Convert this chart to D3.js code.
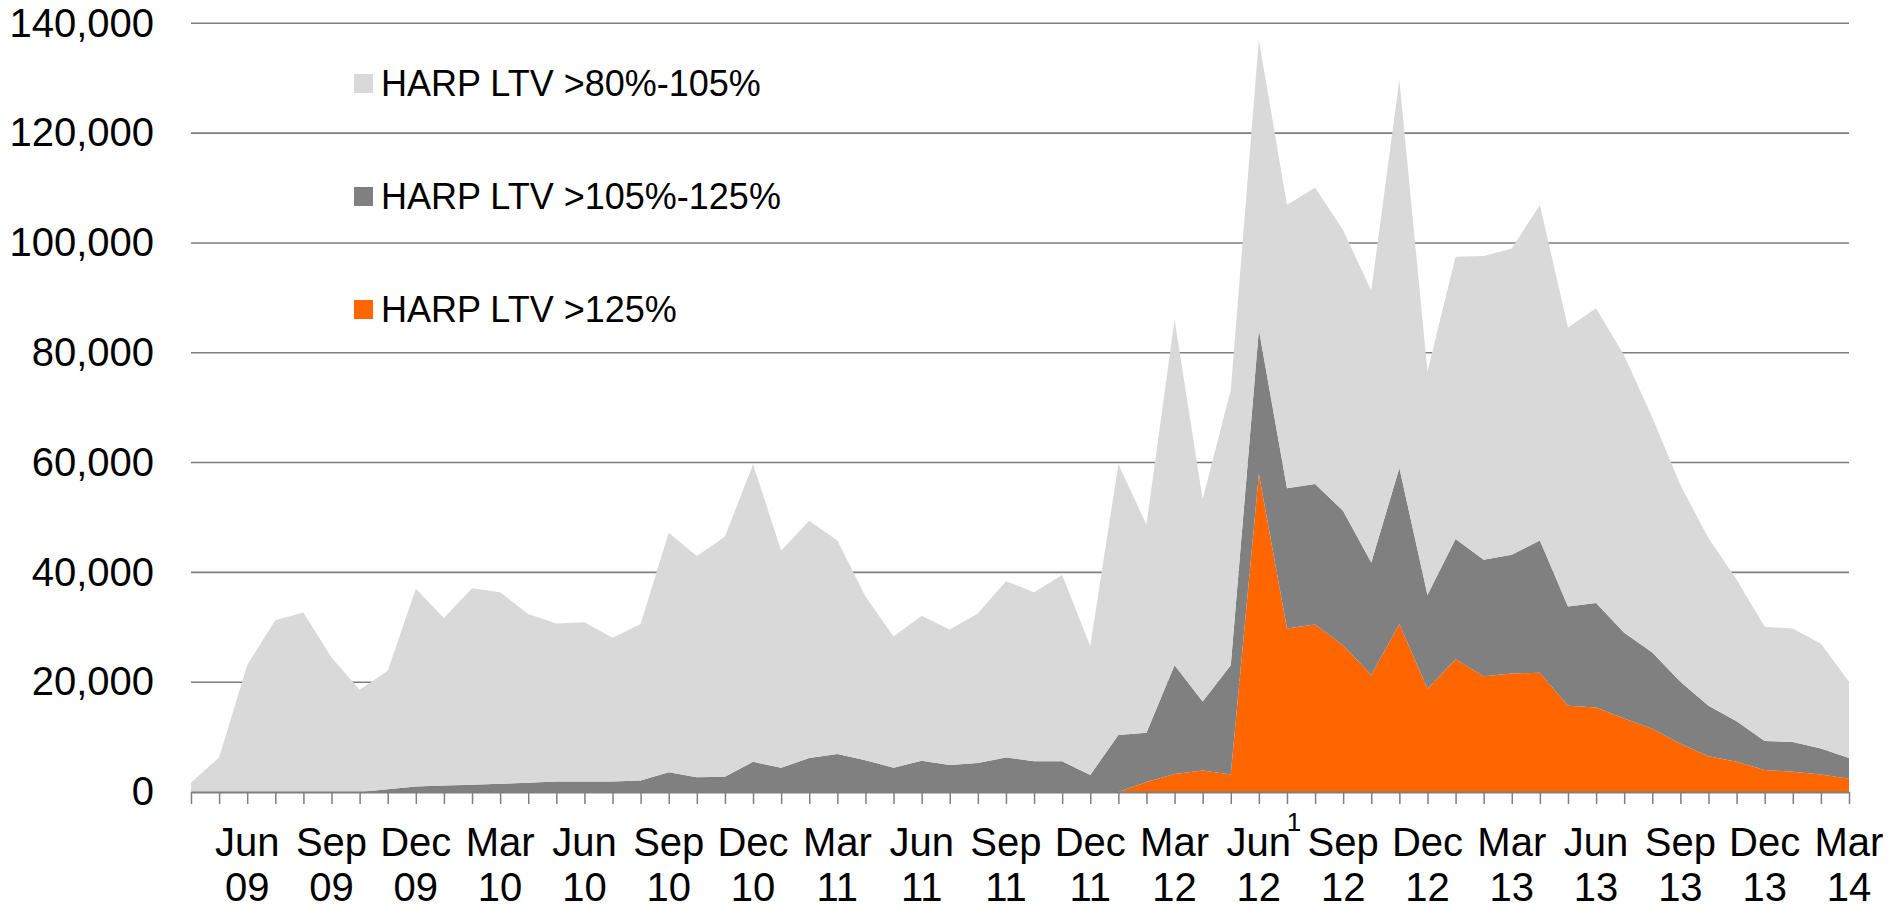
<!DOCTYPE html>
<html>
<head>
<meta charset="utf-8">
<script src="https://cdn.jsdelivr.net/npm/d3@7"></script>
<style>
    body { margin: 0; background: #fff; }
    .chart text { font-family: "Liberation Sans", Arial, sans-serif; fill: #000; }
</style>
</head>
<body>
<svg xmlns="http://www.w3.org/2000/svg" width="1904" height="906" class="chart"></svg>
<script>
// Monthly HARP refinances, Apr 2009 - Mar 2014
const MONTHS = [
    'Apr 09','May 09','Jun 09','Jul 09','Aug 09','Sep 09','Oct 09','Nov 09','Dec 09',
    'Jan 10','Feb 10','Mar 10','Apr 10','May 10','Jun 10','Jul 10','Aug 10','Sep 10','Oct 10','Nov 10','Dec 10',
    'Jan 11','Feb 11','Mar 11','Apr 11','May 11','Jun 11','Jul 11','Aug 11','Sep 11','Oct 11','Nov 11','Dec 11',
    'Jan 12','Feb 12','Mar 12','Apr 12','May 12','Jun 12','Jul 12','Aug 12','Sep 12','Oct 12','Nov 12','Dec 12',
    'Jan 13','Feb 13','Mar 13','Apr 13','May 13','Jun 13','Jul 13','Aug 13','Sep 13','Oct 13','Nov 13','Dec 13',
    'Jan 14','Feb 14','Mar 14'
];

const TICK_LABELS = [
    'Jun 09','Sep 09','Dec 09','Mar 10','Jun 10','Sep 10','Dec 10','Mar 11','Jun 11','Sep 11',
    'Dec 11','Mar 12','Jun 12','Sep 12','Dec 12','Mar 13','Jun 13','Sep 13','Dec 13','Mar 14'
];

const Y_TICKS = [0, 20000, 40000, 60000, 80000, 100000, 120000, 140000];

const LTV_80_105 = [
    1700, 6300, 23100, 31300, 32700, 24500, 18600, 21600, 36000, 30500, 35800, 34900,
    30700, 28800, 29000, 26200, 28500, 43600, 40300, 43700, 54200, 39600, 43200, 38900,
    29800, 23900, 26400, 24700, 27200, 32100, 30800, 33900, 23500, 49300, 37900, 62900,
    36800, 50100, 52800, 51600, 54000, 51100, 49500, 70700, 40700, 51400, 55300, 55800,
    61100, 50800, 53700, 50500, 42800, 35800, 30500, 25800, 20800, 20700, 19100, 13900
];

const LTV_105_125 = [
    0, 0, 0, 0, 0, 0, 0, 500, 1000, 1200, 1300, 1500,
    1700, 1900, 1900, 1900, 2100, 3600, 2700, 2800, 5500, 4400, 6200, 6900,
    5800, 4400, 5700, 4900, 5300, 6300, 5600, 5600, 3100, 10400, 9000, 19800,
    12600, 19900, 26300, 25500, 25600, 24500, 20500, 28400, 17100, 21900, 21200, 21600,
    24100, 18100, 19000, 15600, 13900, 11300, 9200, 7400, 5300, 5400, 4700, 3800
];

const LTV_125 = [
    0, 0, 0, 0, 0, 0, 0, 0, 0, 0, 0, 0,
    0, 0, 0, 0, 0, 0, 0, 0, 0, 0, 0, 0,
    0, 0, 0, 0, 0, 0, 0, 0, 0, 0, 1800, 3300,
    3900, 3200, 57900, 29800, 30500, 26700, 21300, 30600, 18800, 24200, 21100, 21600,
    21700, 15700, 15400, 13400, 11500, 8800, 6500, 5500, 4000, 3700, 3200, 2400
];

const SERIES = [
    {key: 'gt125', name: 'HARP LTV >125%', color: '#ff6600', values: LTV_125},
    {key: 'gt105', name: 'HARP LTV >105%-125%', color: '#808080', values: LTV_105_125},
    {key: 'gt80', name: 'HARP LTV >80%-105%', color: '#d9d9d9', values: LTV_80_105}
];

const LEFT = 191, RIGHT = 1849, TOP = 23.3, BOTTOM = 792;

const $svg = d3.select('.chart');

const xScale = d3.scalePoint()
    .domain(MONTHS)
    .range([LEFT, RIGHT]);

const yScale = d3.scaleLinear()
    .domain([0, 140000])
    .range([BOTTOM, TOP]);

function prepareData() {
    return MONTHS.map((m, i) => {
        const row = {month: m};
        SERIES.forEach(s => row[s.key] = s.values[i]);
        return row;
    });
}

function renderGrid() {
    $svg.append('g')
        .selectAll('line')
        .data(Y_TICKS.slice(1))
        .enter()
        .append('line')
        .attr('x1', LEFT)
        .attr('x2', RIGHT)
        .attr('y1', d => yScale(d))
        .attr('y2', d => yScale(d))
        .attr('stroke', '#7f7f7f')
        .attr('stroke-width', 1.6);
}

function renderAreas(data) {
    const stack = d3.stack().keys(SERIES.map(s => s.key));
    const layers = stack(data);

    const area = d3.area()
        .x(d => xScale(d.data.month))
        .y0(d => yScale(d[0]))
        .y1(d => yScale(d[1]));

    $svg.append('g')
        .selectAll('path')
        .data(layers)
        .enter()
        .append('path')
        .attr('fill', (d, i) => SERIES[i].color)
        .attr('d', area);
}

function renderAxes() {
    const yAxis = d3.axisLeft(yScale)
        .tickValues(Y_TICKS)
        .tickSize(0)
        .tickPadding(37)
        .tickFormat(d3.format(','));

    const yG = $svg.append('g')
        .attr('transform', `translate(${LEFT},0)`)
        .call(yAxis);
    yG.select('.domain').remove();
    yG.selectAll('text')
        .attr('font-size', 40)
        .attr('font-family', '"Liberation Sans", Arial, sans-serif');

    const xAxis = d3.axisBottom(xScale)
        .tickSizeInner(12)
        .tickSizeOuter(0)
        .tickFormat('');

    const xG = $svg.append('g')
        .attr('transform', `translate(0,${BOTTOM})`)
        .call(xAxis);
    xG.select('.domain').attr('stroke', '#7f7f7f').attr('stroke-width', 2);
    xG.selectAll('.tick line').attr('stroke', '#7f7f7f').attr('stroke-width', 1.5);

    const labels = $svg.append('g')
        .selectAll('text')
        .data(TICK_LABELS)
        .enter()
        .append('text')
        .attr('text-anchor', 'middle')
        .attr('font-size', 40);

    labels.append('tspan')
        .attr('x', d => xScale(d))
        .attr('y', 856)
        .text(d => d.split(' ')[0]);

    labels.append('tspan')
        .attr('x', d => xScale(d))
        .attr('y', 901)
        .text(d => d.split(' ')[1]);

    // footnote marker on Jun 12
    $svg.append('text')
        .attr('x', xScale('Jun 12') + 28)
        .attr('y', 831)
        .attr('font-size', 26)
        .text('1');
}

function renderLegend() {
    const items = SERIES.slice().reverse();
    const g = $svg.append('g')
        .selectAll('g')
        .data(items)
        .enter()
        .append('g')
        .attr('transform', (d, i) => `translate(354,${74 + i * 113})`);

    g.append('rect')
        .attr('width', 19)
        .attr('height', 19)
        .attr('fill', d => d.color);

    g.append('text')
        .attr('x', 27)
        .attr('y', 22)
        .attr('font-size', 36)
        .text(d => d.name);
}

renderGrid();
renderAreas(prepareData());
renderAxes();
renderLegend();
</script>
</body>
</html>
